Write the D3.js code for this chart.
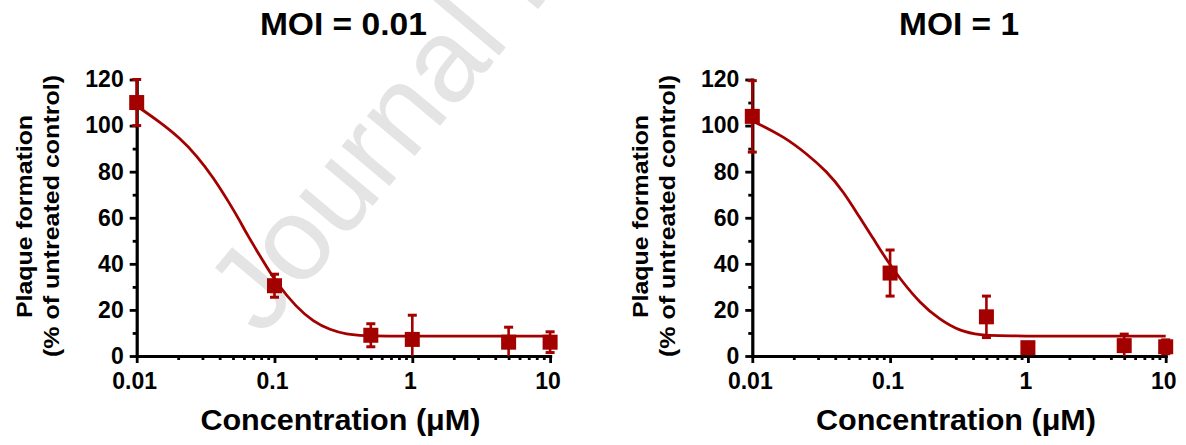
<!DOCTYPE html>
<html>
<head>
<meta charset="utf-8">
<script src="https://cdnjs.cloudflare.com/ajax/libs/d3/7.8.5/d3.min.js"></script>
<style>
  body { margin: 0; background: #fff; }
</style>
</head>
<body>
<div id="fig"></div>
<script>
// data
var concentrations = [0.01, 0.1, 0.5, 1, 5, 10];
var moiLowMean = [110, 30.5, 9, 7.2, 6, 6];
var moiLowErr  = [10, 5, 5, 10.5, 6.5, 4.5];
var moiHighMean = [104, 36, 17, 3.6, 4.5, 4];
var moiHighErr  = [15.5, 10, 9, 1, 5, 3];

// fitted curves, read point by point
var fitLowX = [0.01, 0.0144, 0.0207, 0.0272, 0.036, 0.0475, 0.0562, 0.0629, 0.083, 0.1037, 0.145, 0.191, 0.253, 0.334, 0.441, 0.7, 10];
var fitLowY = [108.5, 102, 94.5, 87, 77.5, 66, 58.5, 53, 41, 31.5, 21, 15, 11.3, 9.4, 8.8, 8.6, 8.6];
var fitHighX = [0.01, 0.0111, 0.0168, 0.0248, 0.0347, 0.0458, 0.0603, 0.0755, 0.0944, 0.118, 0.165, 0.23, 0.321, 0.449, 0.663, 10];
var fitHighY = [102, 100.8, 95.3, 87.8, 80.1, 71.4, 60, 51, 41.7, 33.5, 22.9, 15.7, 10.8, 9, 8.6, 8.6];

var xTicks = [0.01, 0.1, 1, 10];
var xTickLabels = ["0.01", "0.1", "1", "10"];
var yTicks = [0, 20, 40, 60, 80, 100, 120];
var yMinorTicks = [10, 30, 50, 70, 90, 110];
var panelTitles = ["MOI = 0.01", "MOI = 1"];
var xTitle = "Concentration (\u03bcM)";
var yTitle1 = "Plaque formation";
var yTitle2 = "(% of untreated control)";

var red = "#a30000";
var font = "'Liberation Sans', Arial, Helvetica, sans-serif";

var svg = d3.select("#fig").append("svg")
    .attr("width", 1186).attr("height", 445)
    .style("background", "#fff");

// watermark behind the chart
svg.append("text")
    .attr("transform", "translate(262,338) rotate(-50)")
    .attr("font-family", font)
    .attr("font-size", 118)
    .attr("fill", "#e4e4e4")
    .text("Journal Pre-proof");

var panels = [
  {left: 136.7, title: panelTitles[0], mean: moiLowMean, err: moiLowErr, fx: fitLowX, fy: fitLowY, titleLen: 167},
  {left: 752.3, title: panelTitles[1], mean: moiHighMean, err: moiHighErr, fx: fitHighX, fy: fitHighY, titleLen: 120}
];

panels.forEach(function(p) {
  var x = d3.scaleLog().domain([0.01, 10]).range([p.left, p.left + 413.4]);
  var y = d3.scaleLinear().domain([0, 120]).range([356, 79.5]).clamp(true);
  var g = svg.append("g");
  var cx = (x.range()[0] + x.range()[1]) / 2;

  // title
  g.append("text")
      .attr("x", cx).attr("y", 35)
      .attr("text-anchor", "middle")
      .attr("font-family", font).attr("font-weight", "bold")
      .attr("font-size", 32)
      .attr("textLength", p.titleLen).attr("lengthAdjust", "spacingAndGlyphs")
      .text(p.title);

  // y axis
  var ya = g.append("g")
      .attr("transform", "translate(" + p.left + ",0)")
      .call(d3.axisLeft(y).tickValues(yTicks).tickSize(7).tickSizeOuter(0).tickPadding(6));
  ya.append("g").call(d3.axisLeft(y).tickValues(yMinorTicks).tickSize(4).tickFormat(""))
      .select(".domain").remove();

  // x axis
  var xa = g.append("g")
      .attr("transform", "translate(0,356)")
      .call(d3.axisBottom(x).tickValues(xTicks).tickSize(7).tickSizeOuter(0).tickPadding(10)
          .tickFormat(function(d, i) { return xTickLabels[i]; }));
  var minor = x.ticks().filter(function(d) { return xTicks.indexOf(d) < 0; });
  xa.append("g").call(d3.axisBottom(x).tickValues(minor).tickSize(4).tickFormat(""))
      .select(".domain").remove();
  xa.selectAll(".tick text").attr("dx", -2.5);

  [ya, xa].forEach(function(a) {
    a.attr("font-family", font).attr("font-size", 23).attr("font-weight", "bold");
    a.selectAll("text").attr("fill", "#000");
    a.selectAll("line").attr("stroke", "#000").attr("stroke-width", 2.8);
    a.selectAll(".domain").attr("stroke", "#000").attr("stroke-width", 3.2).attr("stroke-linecap", "square");
  });

  // axis titles
  g.append("text")
      .attr("x", cx - 3).attr("y", 430)
      .attr("text-anchor", "middle")
      .attr("font-family", font).attr("font-weight", "bold")
      .attr("font-size", 29)
      .attr("textLength", 280).attr("lengthAdjust", "spacingAndGlyphs")
      .text(xTitle);
  g.append("text")
      .attr("transform", "translate(" + (p.left - 104.5) + ",216.5) rotate(-90)")
      .attr("text-anchor", "middle")
      .attr("font-family", font).attr("font-weight", "bold")
      .attr("font-size", 22)
      .attr("textLength", 203).attr("lengthAdjust", "spacingAndGlyphs")
      .text(yTitle1);
  g.append("text")
      .attr("transform", "translate(" + (p.left - 77.5) + ",216) rotate(-90)")
      .attr("text-anchor", "middle")
      .attr("font-family", font).attr("font-weight", "bold")
      .attr("font-size", 22)
      .attr("textLength", 282).attr("lengthAdjust", "spacingAndGlyphs")
      .text(yTitle2);

  // fitted curve
  var line = d3.line()
      .x(function(d) { return x(d[0]); })
      .y(function(d) { return y(d[1]); })
      .curve(d3.curveBasis);
  g.append("path")
      .datum(p.fx.map(function(v, i) { return [v, p.fy[i]]; }))
      .attr("d", line)
      .attr("fill", "none")
      .attr("stroke", red)
      .attr("stroke-width", 2.8);

  var pts = concentrations.map(function(c, i) { return {c: c, m: p.mean[i], e: p.err[i]}; });

  // error bars
  var eb = g.append("g").attr("stroke", red);
  eb.selectAll("line.bar").data(pts).join("line")
      .attr("class", "bar")
      .attr("x1", function(d) { return x(d.c); }).attr("x2", function(d) { return x(d.c); })
      .attr("y1", function(d) { return y(d.m - d.e); }).attr("y2", function(d) { return y(d.m + d.e); })
      .attr("stroke-width", 2.6);
  eb.selectAll("line.capTop").data(pts).join("line")
      .attr("class", "capTop")
      .attr("x1", function(d) { return x(d.c) - 4.5; }).attr("x2", function(d) { return x(d.c) + 4.5; })
      .attr("y1", function(d) { return y(d.m + d.e); }).attr("y2", function(d) { return y(d.m + d.e); })
      .attr("stroke-width", 3);
  eb.selectAll("line.capBot").data(pts.filter(function(d) { return d.m - d.e > 0; })).join("line")
      .attr("class", "capBot")
      .attr("x1", function(d) { return x(d.c) - 4.5; }).attr("x2", function(d) { return x(d.c) + 4.5; })
      .attr("y1", function(d) { return y(d.m - d.e); }).attr("y2", function(d) { return y(d.m - d.e); })
      .attr("stroke-width", 3);

  // square markers
  g.selectAll("rect.pt").data(pts).join("rect")
      .attr("class", "pt")
      .attr("x", function(d) { return x(d.c) - 7.5; })
      .attr("y", function(d) { return y(d.m) - 7.5; })
      .attr("width", 15).attr("height", 15)
      .attr("fill", red);
});
</script>
</body>
</html>
